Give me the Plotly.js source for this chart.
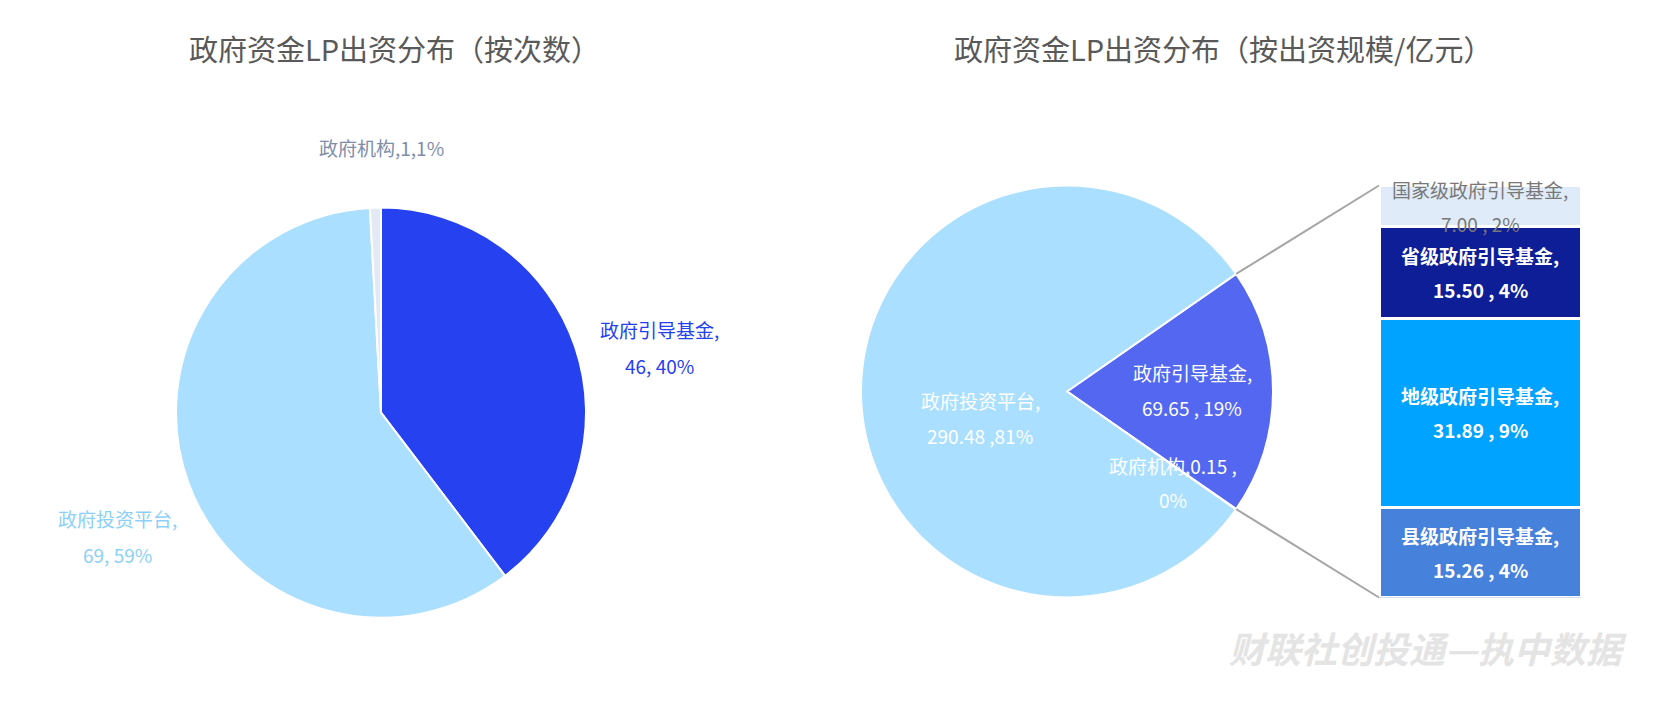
<!DOCTYPE html>
<html><head><meta charset="utf-8">
<script src="https://cdn.plot.ly/plotly-3.0.1.min.js"></script>
<style>html,body{margin:0;padding:0;background:#fff;}#chart{width:1663px;height:709px;}</style>
</head><body><div id="chart"></div>
<script>
// ---------- data ----------
const countLabels = ['政府引导基金', '政府投资平台', '政府机构'];
const countValues = [46, 69, 1];
const scaleLabels = ['政府引导基金', '政府机构', '政府投资平台'];
const scaleValues = [69.65, 0.15, 290.48];
const guideLabels = ['县级政府引导基金', '地级政府引导基金', '省级政府引导基金', '国家级政府引导基金'];
const guideValues = [15.26, 31.89, 15.50, 7.00];
const chartTitles = ['政府资金LP出资分布（按次数）', '政府资金LP出资分布（按出资规模/亿元）'];
const watermarkText = '财联社创投通—执中数据';

// ---------- styles / geometry ----------
const W = 1663, H = 709;
const FONT = '"Noto Sans CJK SC", "Noto Sans", sans-serif';
const countColors = ['#2541F0', '#AADFFF', '#E3EAF6'];
const countTextColors = ['#2540EE', '#8CD0F8', '#7E8EA9'];
const scaleColors = ['#5367F0', '#E3EAF6', '#AADFFF'];
const guideColors = ['#4681DC', '#00A3FF', '#0D1E96', '#DFEBF9'];
const guideTextColors = ['#FFFFFF', '#FFFFFF', '#FFFFFF', '#787878'];
const guideTextWeights = ['bold', 'bold', 'bold', 'normal'];
const leftPie = {cx: 381, cy: 412.6, r: 205};
const rightPie = {cx: 1067, cy: 391.5, r: 206};
const barBox = {x0: 1379, x1: 1581};
// label line centres (pixels) for pie labels
const countLabelPos = [{x: 659, y: [330, 365]}, {x: 117, y: [518, 554]}, {x: 381, y: [147]}];
const scaleLabelPos = [{x: 1192, y: [373, 407]}, {x: 1173, y: [465, 499]}, {x: 980, y: [400, 435]}];
const titleX = [394, 1223];
const LABEL_SIZE = 19;

const px = x => x / W;
const py = y => 1 - y / H;
const sum = a => a.reduce((s, v) => s + v, 0);
const pct = (v, t) => Math.round(v / t * 100) + '%';
const domainOf = p => ({x: [px(p.cx - p.r), px(p.cx + p.r)], y: [py(p.cy + p.r), py(p.cy - p.r)]});

const countTotal = sum(countValues);
const scaleTotal = sum(scaleValues);
const rightRotation = 90 - scaleValues[0] / scaleTotal * 180;

const traces = [
  {
    type: 'pie', labels: countLabels, values: countValues, sort: false,
    direction: 'clockwise', rotation: 0, textinfo: 'none', hoverinfo: 'skip',
    marker: {colors: countColors, line: {color: '#FFFFFF', width: 2}},
    domain: domainOf(leftPie), showlegend: false
  },
  {
    type: 'pie', labels: scaleLabels, values: scaleValues, sort: false,
    direction: 'clockwise', rotation: rightRotation, textinfo: 'none', hoverinfo: 'skip',
    marker: {colors: scaleColors, line: {color: '#FFFFFF', width: 2}},
    domain: domainOf(rightPie), showlegend: false
  }
];
guideLabels.forEach((lab, i) => {
  traces.push({
    type: 'bar', x: [0], y: [guideValues[i]], name: lab, showlegend: false,
    hoverinfo: 'skip', xaxis: 'x', yaxis: 'y',
    marker: {color: guideColors[i], line: {color: '#FFFFFF', width: 3}}
  });
});

const annotations = [];
// titles
chartTitles.forEach((t, i) => annotations.push({
  text: t, x: px(titleX[i]), y: py(48), xref: 'paper', yref: 'paper',
  xanchor: 'center', yanchor: 'middle', showarrow: false,
  font: {family: FONT, size: 29, color: '#595959'}
}));
// left pie labels
countLabels.forEach((lab, i) => {
  const lines = countLabelPos[i].y.length === 2
    ? [lab + ',', countValues[i] + ', ' + pct(countValues[i], countTotal)]
    : [lab + ',' + countValues[i] + ',' + pct(countValues[i], countTotal)];
  lines.forEach((ln, k) => annotations.push({
    text: ln, x: px(countLabelPos[i].x), y: py(countLabelPos[i].y[k]),
    xref: 'paper', yref: 'paper', xanchor: 'center', yanchor: 'middle', showarrow: false,
    font: {family: FONT, size: LABEL_SIZE, color: countTextColors[i]}
  }));
});
// right pie labels
scaleLabels.forEach((lab, i) => {
  const v = scaleValues[i].toFixed(2), p = pct(scaleValues[i], scaleTotal);
  let lines;
  if (i === 1) lines = [lab + ',' + v + ' ,', p];
  else if (i === 2) lines = [lab + ',', v + ' ,' + p];
  else lines = [lab + ',', v + ' , ' + p];
  lines.forEach((ln, k) => annotations.push({
    text: ln, x: px(scaleLabelPos[i].x), y: py(scaleLabelPos[i].y[k]),
    xref: 'paper', yref: 'paper', xanchor: 'center', yanchor: 'middle', showarrow: false,
    font: {family: FONT, size: LABEL_SIZE, color: '#FFFFFF'}
  }));
});
// bar labels
let cum = 0;
guideLabels.forEach((lab, i) => {
  const mid = cum + guideValues[i] / 2;
  cum += guideValues[i];
  const lines = [lab + ',', guideValues[i].toFixed(2) + ' , ' + pct(guideValues[i], scaleTotal)];
  lines.forEach((ln, k) => annotations.push({
    text: ln, x: 0, y: mid, xref: 'x', yref: 'y', yshift: k === 0 ? 17 : -17,
    xanchor: 'center', yanchor: 'middle', showarrow: false,
    font: {family: FONT, size: LABEL_SIZE, color: guideTextColors[i], weight: guideTextWeights[i]}
  }));
});
// watermark
annotations.push({
  text: watermarkText, x: px(1428), y: py(647), xref: 'paper', yref: 'paper',
  xanchor: 'center', yanchor: 'middle', showarrow: false,
  font: {family: FONT, size: 36, color: '#E4E4E4', weight: 'bold', style: 'italic'}
});

// connector lines from the guide-fund slice edges to the bar stack
const a0 = rightRotation * Math.PI / 180;
const a1 = (rightRotation + scaleValues[0] / scaleTotal * 360) * Math.PI / 180;
const edge = a => [rightPie.cx + rightPie.r * Math.sin(a), rightPie.cy - rightPie.r * Math.cos(a)];
const e0 = edge(a0), e1 = edge(a1);
const shapes = [
  {type: 'line', xref: 'paper', yref: 'paper', x0: px(e0[0]), y0: py(e0[1]), x1: px(barBox.x0), y1: py(rightPie.cy - rightPie.r),
   line: {color: '#A6A6A6', width: 2}},
  {type: 'line', xref: 'paper', yref: 'paper', x0: px(e1[0]), y0: py(e1[1]), x1: px(barBox.x0), y1: py(rightPie.cy + rightPie.r),
   line: {color: '#A6A6A6', width: 2}}
];

const layout = {
  width: W, height: H, margin: {l: 0, r: 0, t: 0, b: 0},
  paper_bgcolor: '#FFFFFF', plot_bgcolor: 'rgba(0,0,0,0)',
  barmode: 'stack', bargap: 0,
  xaxis: {domain: [px(barBox.x0), px(barBox.x1)], range: [-0.5, 0.5], visible: false, fixedrange: true},
  yaxis: {domain: [py(rightPie.cy + rightPie.r), py(rightPie.cy - rightPie.r)], range: [0, sum(guideValues)], visible: false, fixedrange: true},
  annotations: annotations, shapes: shapes, showlegend: false,
  font: {family: FONT}
};
Plotly.newPlot('chart', traces, layout, {displayModeBar: false, staticPlot: true});
</script></body></html>
